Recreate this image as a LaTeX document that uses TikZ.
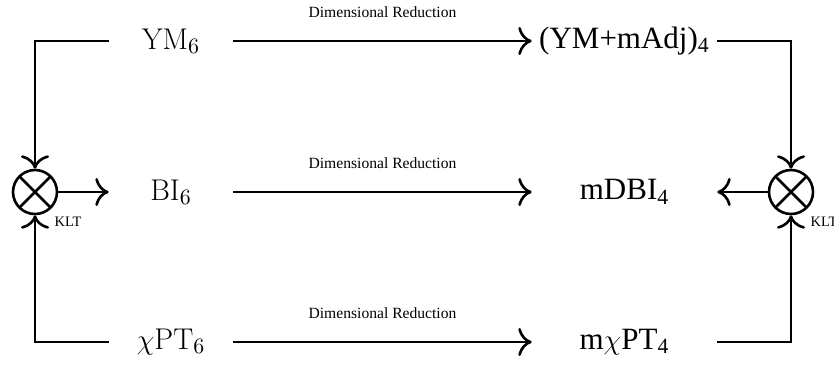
\documentclass[tikz,border=0pt]{standalone}
\usepackage{amsmath,amssymb}
\usepackage{fontspec}
\newfontfamily\timesfont{Liberation Serif}
\usetikzlibrary{calc, positioning, arrows.meta}

\begin{document}
\begin{tikzpicture}[x = 0.5pt, y = -0.5pt, line width = 1.3pt, >={To[scale=1.5]},
lft/.style = {minimum width = 61pt, inner xsep = 0pt, font = \fontsize{15}{18}\selectfont},
rgt/.style = {minimum width = 91.5pt, inner xsep = 0pt, font = \fontsize{15.5}{18}\timesfont},
mix/.style = {draw, circle, minimum size = 22pt, inner sep = 0pt,
  path picture = {\draw (path picture bounding box.north west) -- (path picture bounding box.south east)
    (path picture bounding box.north east) -- (path picture bounding box.south west);}},
dr/.style = {midway, yshift = 14.5pt, font = \fontsize{7.8}{9}\timesfont},
klt/.style = {font = \fontsize{7.2}{9}\timesfont, inner sep = 0pt}]
\useasboundingbox (0,0) rectangle (834,366);
\node[mix](kl) at (35,192){};
\node[mix](kr) at (791,192){};
\node[klt](tl) at ($(kl)+(33,30)$){KLT};
\node[klt](tr) at ($(kr)+(33,30)$){KLT};
\node[lft](ym6) at (171,41){$\mathrm{YM}_6$};
\node[lft](bi6) at (171,192){$\mathrm{BI}_6$};
\node[lft](pt6) at (171,342){$\chi\mathrm{PT}_6$};
\node[rgt](ym4) at (624.5,41){(YM+mAdj)\textsubscript{4}};
\node[rgt](dbi4) at (624.5,192){mDBI\textsubscript{4}};
\node[rgt](pt4) at (624.5,342){m$\chi$PT\textsubscript{4}};
\foreach \i/\j in {ym6/ym4, bi6/dbi4, pt6/pt4}{
\draw[->] (\i) -- node[dr]{Dimensional Reduction} (\j);
}
\draw[->] (ym6.west) -| (kl.north);
\draw[->] (pt6.west) -| (kl.south);
\draw[->] (kl.east) -- (bi6.west);
\draw[->] (ym4.east) -| (kr.north);
\draw[->] (pt4.east) -| (kr.south);
\draw[->] (kr.west) -- (dbi4.east);
\end{tikzpicture}
\end{document}
